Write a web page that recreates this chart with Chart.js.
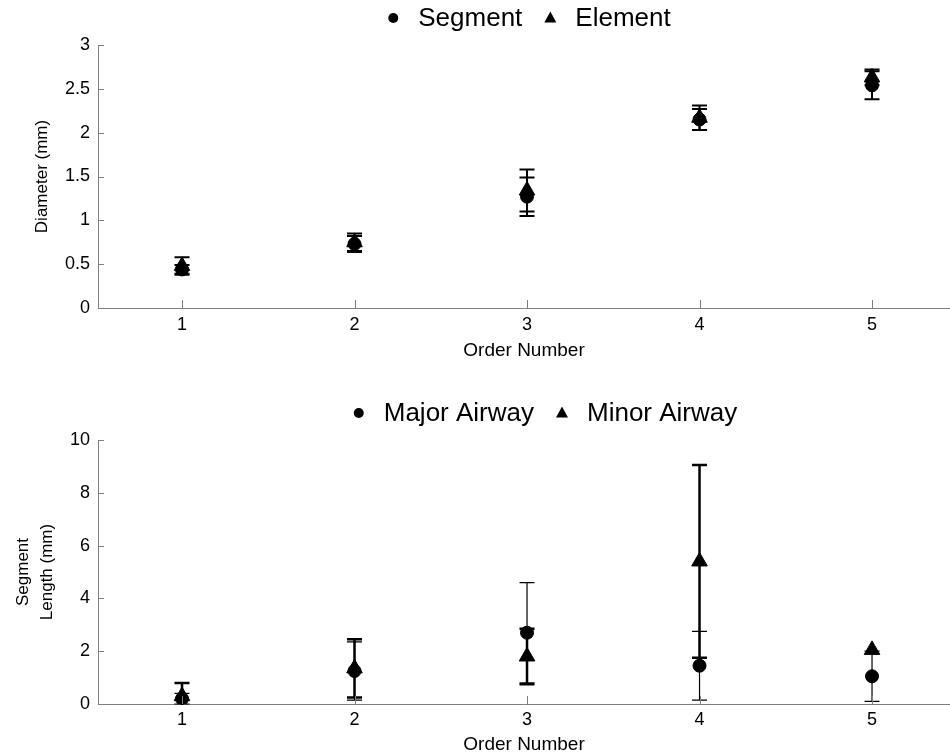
<!DOCTYPE html>
<html>
<head>
<meta charset="utf-8">
<script src="https://cdn.jsdelivr.net/npm/chart.js@4.4.1/dist/chart.umd.min.js"></script>
<style>
  html, body { margin: 0; padding: 0; background: #fff; }
  .panel { position: absolute; left: 0; width: 950px; height: 378px; }
</style>
</head>
<body>
<div class="panel" style="top:0"><canvas id="diameterChart" width="950" height="378"></canvas></div>
<div class="panel" style="top:378px"><canvas id="lengthChart" width="950" height="378"></canvas></div>
<script>
// Data
const orderNumbers = [1, 2, 3, 4, 5];

const segmentDiameter = [0.44, 0.73, 1.27, 2.15, 2.54];
const segmentDiameterSd = [0.05, 0.09, 0.22, 0.12, 0.16];
const elementDiameter = [0.48, 0.75, 1.34, 2.17, 2.63];
const elementDiameterSd = [0.10, 0.10, 0.24, 0.14, 0.09];

const majorLength = [0.2, 1.25, 2.7, 1.45, 1.05];
const majorLengthSd = [0.2, 1.1, 1.9, 1.3, 0.95];
const minorLength = [0.3, 1.35, 1.8, 5.4, 2.05];
const minorLengthSd = [0.5, 1.1, 1.05, 3.65, 0];

const axisGray = '#7f7f7f';
const fontFamily = "'Liberation Sans', Arial, Helvetica, sans-serif";

Chart.defaults.font.family = fontFamily;
Chart.defaults.color = '#000';

function toPoints(values) {
  return orderNumbers.map((x, i) => ({ x, y: values[i] }));
}

// Error bars drawn behind the markers, clipped to the plot area
const errorBars = {
  id: 'errorBars',
  beforeDatasetsDraw(chart) {
    const { ctx, chartArea, scales: { x, y } } = chart;
    ctx.save();
    ctx.beginPath();
    ctx.rect(chartArea.left, chartArea.top, chartArea.right - chartArea.left, chartArea.bottom - chartArea.top + 1);
    ctx.clip();
    ctx.strokeStyle = '#000';
    chart.data.datasets.forEach(ds => {
      ctx.lineWidth = ds.errorWidth;
      ds.data.forEach((pt, i) => {
        const err = ds.errors[i];
        if (!err) return;
        const px = x.getPixelForValue(pt.x);
        const top = y.getPixelForValue(pt.y + err);
        const bot = y.getPixelForValue(pt.y - err);
        ctx.beginPath();
        ctx.moveTo(px, top); ctx.lineTo(px, bot);
        ctx.moveTo(px - 7.5, top); ctx.lineTo(px + 7.5, top);
        ctx.moveTo(px - 7.5, bot); ctx.lineTo(px + 7.5, bot);
        ctx.stroke();
      });
    });
    ctx.restore();
  }
};

// MATLAB style ticks pointing into the plot
const innerTicks = {
  id: 'innerTicks',
  afterDraw(chart) {
    const { ctx, chartArea, scales: { x, y } } = chart;
    ctx.save();
    ctx.strokeStyle = axisGray;
    ctx.lineWidth = 1;
    ctx.beginPath();
    x.ticks.forEach(t => {
      const px = Math.round(x.getPixelForValue(t.value)) + 0.5;
      ctx.moveTo(px, chartArea.bottom);
      ctx.lineTo(px, chartArea.bottom - 8);
    });
    y.ticks.forEach(t => {
      const py = Math.round(y.getPixelForValue(t.value)) + 0.5;
      ctx.moveTo(chartArea.left, py);
      ctx.lineTo(chartArea.left + 6, py);
    });
    ctx.stroke();
    ctx.restore();
  }
};

// Legend row above the plot
const markerLegend = {
  id: 'markerLegend',
  afterDraw(chart, args, opts) {
    const { ctx, chartArea } = chart;
    ctx.save();
    ctx.font = opts.fontSize + 'px ' + fontFamily;
    ctx.textBaseline = 'middle';
    ctx.fillStyle = '#000';
    const items = chart.data.datasets.map(ds => ({
      text: ds.label,
      style: ds.pointStyle,
      textWidth: ctx.measureText(ds.label).width
    }));
    const total = items.reduce((a, it) => a + opts.textOffset + it.textWidth, 0) + opts.gap * (items.length - 1);
    let cx = (chartArea.left + chartArea.right) / 2 + opts.shift - total / 2;
    items.forEach(it => {
      ctx.beginPath();
      if (it.style === 'circle') {
        ctx.arc(cx, opts.y, 5, 0, Math.PI * 2);
      } else {
        ctx.moveTo(cx, opts.y - 6.5);
        ctx.lineTo(cx + 6, opts.y + 4.5);
        ctx.lineTo(cx - 6, opts.y + 4.5);
        ctx.closePath();
      }
      ctx.fill();
      ctx.fillText(it.text, cx + opts.textOffset, opts.y + 1);
      cx += opts.textOffset + it.textWidth + opts.gap;
    });
    ctx.restore();
  }
};

function makeOptions(cfg) {
  return {
    responsive: false,
    animation: false,
    events: [],
    layout: { autoPadding: false, padding: { top: cfg.top, left: 0, right: 0, bottom: 0 } },
    plugins: {
      legend: { display: false },
      tooltip: { enabled: false },
      markerLegend: { y: cfg.legendY, fontSize: 26, textOffset: 25, gap: 28, shift: cfg.legendShift }
    },
    scales: {
      x: {
        type: 'linear',
        min: 0.513,
        max: 5.452,
        afterBuildTicks: s => { s.ticks = orderNumbers.map(v => ({ value: v })); },
        afterFit: s => { s.height = cfg.xHeight; },
        grid: { display: false, drawTicks: false },
        border: { display: true, color: axisGray, width: 1 },
        ticks: { padding: cfg.xTickPad, font: { size: 18 } },
        title: {
          display: true,
          text: 'Order Number',
          font: { size: 19 },
          padding: { top: 0, bottom: cfg.xTitlePad }
        }
      },
      y: {
        min: 0,
        max: cfg.yMax,
        ticks: {
          stepSize: cfg.yStep,
          padding: 8,
          font: { size: 18 },
          callback: v => String(Math.round(v * 10) / 10)
        },
        afterFit: s => { s.width = 98; },
        grid: { display: false, drawTicks: false },
        border: { display: true, color: axisGray, width: 1 },
        title: {
          display: true,
          text: cfg.yTitle,
          font: { size: 17, lineHeight: 1.38 },
          padding: { top: cfg.yTitlePad, bottom: 0 }
        }
      }
    }
  };
}

function dataset(label, style, values, errors, errorWidth) {
  return {
    label,
    data: toPoints(values),
    errors,
    errorWidth,
    pointStyle: style,
    pointRadius: style === 'circle' ? 6.5 : 9,
    pointBackgroundColor: '#000',
    pointBorderColor: '#000',
    pointBorderWidth: 1,
    showLine: false
  };
}

new Chart(document.getElementById('diameterChart'), {
  type: 'scatter',
  data: {
    datasets: [
      dataset('Segment', 'circle', segmentDiameter, segmentDiameterSd, 2),
      dataset('Element', 'triangle', elementDiameter, elementDiameterSd, 2)
    ]
  },
  options: makeOptions({
    top: 45, legendY: 18, legendShift: 8, xHeight: 70, xTickPad: 6, xTitlePad: 16,
    yMax: 3, yStep: 0.5, yTitle: 'Diameter (mm)', yTitlePad: 31
  }),
  plugins: [errorBars, innerTicks, markerLegend]
});

new Chart(document.getElementById('lengthChart'), {
  type: 'scatter',
  data: {
    datasets: [
      dataset('Major Airway', 'circle', majorLength, majorLengthSd, 1.2),
      dataset('Minor Airway', 'triangle', minorLength, minorLengthSd, 2.5)
    ]
  },
  options: makeOptions({
    top: 62, legendY: 35, legendShift: 24, xHeight: 52, xTickPad: 5, xTitlePad: 0,
    yMax: 10, yStep: 2, yTitle: ['Segment', 'Length (mm)'], yTitlePad: 12
  }),
  plugins: [errorBars, innerTicks, markerLegend]
});
</script>
</body>
</html>
